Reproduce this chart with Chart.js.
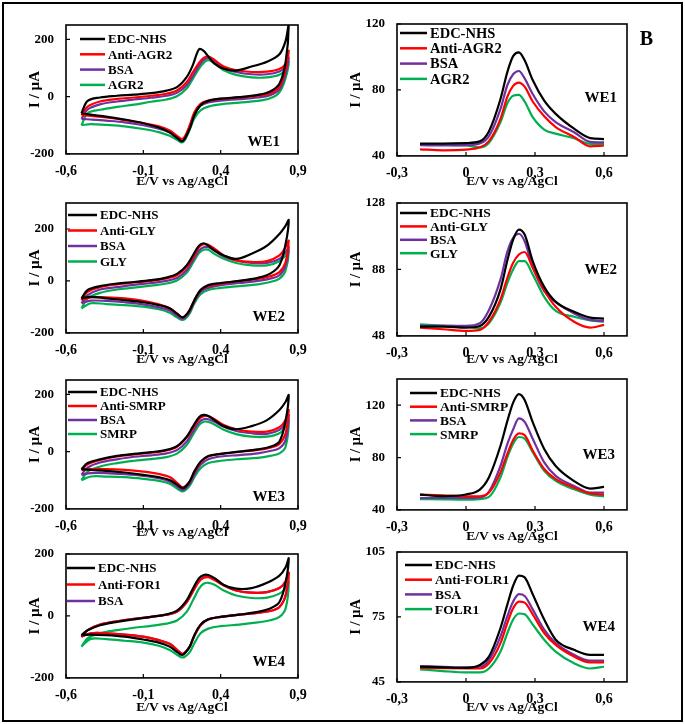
<!DOCTYPE html>
<html>
<head>
<meta charset="utf-8">
<script src="https://cdn.jsdelivr.net/npm/chart.js@4.4.1/dist/chart.umd.min.js"></script>
<style>
  body { margin: 0; background: #fff; }
  #page { position: relative; width: 685px; height: 724px; overflow: hidden; }
  #page canvas { position: absolute; }
  #frame { position: absolute; left: 2px; top: 2px; width: 677px; height: 716px; border: 2px solid #000; pointer-events: none; z-index: 5; }
</style>
</head>
<body>
<div id="page"><div id="frame"></div></div>
<script>
// Potential grids (E/V vs Ag/AgCl)
const cvForwardE = [-0.5, -0.46, -0.38, -0.27, -0.16, -0.05, 0.05, 0.12, 0.18, 0.22, 0.26, 0.29, 0.32, 0.36, 0.42, 0.5, 0.6, 0.7, 0.78, 0.82, 0.84];
const cvReverseE = [0.82, 0.78, 0.72, 0.64, 0.52, 0.4, 0.32, 0.27, 0.23, 0.2, 0.17, 0.15, 0.12, 0.07, 0, -0.1, -0.22, -0.34, -0.44, -0.5];
const dpvE = [-0.2, -0.1, 0, 0.06, 0.1, 0.15, 0.18, 0.205, 0.23, 0.255, 0.29, 0.34, 0.39, 0.47, 0.54, 0.6];

// Tick labels
const cvTicksX = [-0.6, -0.1, 0.4, 0.9];
const dpvTicksX = [-0.3, 0, 0.3, 0.6];
const cvTicksY = [-200, 0, 200];
const dpvTicksYWE1 = [40, 80, 120];
const dpvTicksYWE2 = [48, 88, 128];
const dpvTicksYWE3 = [40, 80, 120];
const dpvTicksYWE4 = [45, 75, 105];

// Legend names (EDC-NHS, antibody, BSA, target)
const namesWE1 = ["EDC-NHS", "Anti-AGR2", "BSA", "AGR2"];
const namesWE2 = ["EDC-NHS", "Anti-GLY", "BSA", "GLY"];
const namesWE3 = ["EDC-NHS", "Anti-SMRP", "BSA", "SMRP"];
const cvNamesWE4 = ["EDC-NHS", "Anti-FOR1", "BSA", null];
const dpvNamesWE4 = ["EDC-NHS", "Anti-FOLR1", "BSA", "FOLR1"];

//! CV currents (µA): forward scan on cvForwardE, reverse scan on cvReverseE
const cvFwdWE1 = [
  [-58, -15, -3, 3, 7, 12, 21, 34, 68, 110, 165, 160, 140, 115, 97, 91, 105, 122, 148, 195, 255],
  [-65, -35, -17, -8, -3, 3, 10, 22, 50, 85, 118, 135, 140, 128, 105, 92, 86, 87, 96, 115, 160],
  [-78, -45, -27, -17, -10, -4, 3, 14, 40, 72, 108, 127, 134, 124, 100, 86, 78, 78, 88, 105, 137],
  [-100, -58, -46, -36, -28, -18, -10, 2, 28, 62, 98, 118, 127, 116, 92, 76, 67, 67, 76, 95, 123],
];
const cvRevWE1 = [
  [120, 45, 18, 6, -2, -7, -15, -30, -65, -112, -145, -156, -145, -125, -108, -93, -80, -70, -63, -58],
  [95, 35, 12, 3, -3, -8, -14, -25, -55, -100, -138, -148, -138, -118, -104, -92, -82, -73, -67, -65],
  [80, 25, 5, -3, -9, -14, -20, -32, -62, -105, -145, -155, -145, -125, -112, -100, -90, -84, -80, -78],
  [65, 15, -6, -15, -21, -27, -35, -48, -75, -115, -150, -160, -152, -137, -124, -113, -104, -99, -96, -100],
];
const cvFwdWE2 = [
  [-67, -35, -20, -10, -4, 3, 13, 28, 60, 98, 136, 145, 136, 117, 98, 85, 105, 136, 181, 213, 234],
  [-74, -42, -24, -13, -6, 0, 10, 23, 54, 88, 130, 141, 139, 124, 98, 79, 73, 76, 98, 130, 155],
  [-86, -55, -33, -24, -15, -8, 0, 12, 41, 79, 117, 130, 130, 117, 94, 79, 69, 69, 85, 111, 130],
  [-106, -67, -46, -33, -26, -18, -10, 3, 31, 69, 107, 120, 120, 104, 85, 69, 60, 60, 76, 98, 117],
];
const cvRevWE2 = [
  [143, 60, 28, 12, 0, -8, -16, -35, -74, -112, -135, -140, -127, -105, -93, -82, -74, -67, -61, -67],
  [73, 34, 18, 8, 0, -10, -20, -35, -74, -112, -135, -140, -127, -105, -90, -77, -67, -63, -63, -74],
  [60, 22, 9, 0, -8, -16, -27, -42, -80, -118, -140, -145, -135, -114, -102, -90, -82, -77, -76, -86],
  [41, 9, -4, -13, -20, -27, -35, -51, -86, -125, -146, -150, -141, -122, -109, -99, -93, -89, -86, -106],
];
const cvFwdWE3 = [
  [-61, -40, -27, -15, -8, -2, 6, 20, 52, 87, 120, 128, 124, 110, 89, 78, 89, 110, 145, 174, 197],
  [-64, -44, -29, -17, -10, -4, 4, 18, 49, 81, 113, 124, 124, 113, 93, 78, 70, 70, 85, 110, 145],
  [-81, -56, -38, -27, -18, -13, -6, 6, 35, 70, 102, 113, 113, 104, 87, 72, 64, 62, 76, 99, 128],
  [-100, -70, -52, -40, -32, -26, -19, -6, 23, 58, 93, 104, 104, 95, 76, 61, 52, 52, 64, 87, 110],
];
const cvRevWE3 = [
  [110, 35, 17, 8, 0, -8, -15, -35, -69, -104, -124, -127, -116, -99, -89, -81, -73, -67, -64, -61],
  [64, 27, 14, 6, -1, -8, -17, -37, -71, -104, -121, -124, -110, -89, -78, -70, -64, -61, -61, -64],
  [41, 12, 2, -6, -12, -17, -27, -46, -81, -112, -130, -133, -122, -104, -93, -85, -79, -75, -75, -81],
  [17, -6, -15, -22, -26, -32, -40, -58, -89, -119, -135, -139, -130, -112, -102, -95, -89, -87, -87, -100],
];
const cvFwdWE4 = [
  [-62, -46, -30, -19, -11, -3, 5, 18, 50, 88, 122, 132, 132, 122, 100, 88, 90, 107, 130, 157, 186],
  [-67, -46, -28, -17, -9, -3, 4, 15, 45, 79, 111, 123, 125, 116, 98, 82, 75, 77, 90, 111, 139],
  [-67, -46, -28, -17, -9, -3, 4, 14, 44, 78, 113, 125, 128, 121, 100, 82, 75, 77, 90, 111, 139],
  [-99, -72, -56, -46, -38, -32, -25, -14, 13, 50, 88, 104, 107, 101, 82, 66, 58, 59, 72, 90, 111],
];
const cvRevWE4 = [
  [109, 45, 24, 13, 4, -3, -11, -28, -62, -99, -120, -126, -117, -99, -86, -76, -67, -62, -60, -62],
  [66, 29, 16, 10, 4, -3, -11, -30, -64, -99, -117, -122, -110, -90, -78, -67, -60, -56, -56, -67],
  [66, 29, 16, 10, 4, -3, -11, -30, -64, -99, -117, -122, -110, -90, -78, -67, -60, -56, -56, -67],
  [24, -3, -14, -21, -28, -33, -41, -56, -88, -117, -131, -134, -126, -110, -96, -86, -80, -75, -74, -99],
];

//! DPV currents (µA) on dpvE
const dpvWE1 = [
  [47.5, 47.5, 47.8, 48.8, 55, 74.5, 91, 100.5, 102.8, 98, 86, 73.5, 65.5, 56.5, 50.8, 50.2],
  [44, 43.4, 43.8, 45.2, 49, 62.5, 76, 82.5, 84.5, 82, 73, 64, 57.5, 51.5, 45.8, 46.3],
  [46.5, 46.3, 46.5, 47.5, 52, 68.5, 83, 89.5, 91.5, 87, 77.5, 67, 60.5, 54.3, 48.5, 48.2],
  [47, 46.8, 46.3, 45.2, 48, 60.5, 72, 76.5, 77, 73, 63.5, 56, 53.5, 50.7, 47.3, 47.3],
];
const dpvWE2 = [
  [53.6, 53.6, 53, 54, 59.6, 76, 93.5, 106, 112, 109, 93, 77.5, 68.5, 62.5, 59, 58.4],
  [52.9, 52, 51, 51.6, 56.6, 70, 83, 92, 97, 98.5, 89, 75.5, 65.5, 56.5, 53, 54.6],
  [54, 54, 54, 55.6, 63.6, 82, 98.7, 107, 109.5, 105, 89.5, 75, 68.5, 61.5, 57.6, 57],
  [55, 54.2, 53.6, 52.6, 55.6, 68, 80, 88, 93, 93, 85, 71.5, 63, 59.5, 57.3, 56.6],
];
const dpvWE3 = [
  [51.7, 50.5, 51.8, 55.5, 65, 89, 108, 122, 128.5, 124, 107, 86.5, 73.5, 62, 56.3, 57.6],
  [51.7, 51.2, 50.4, 50.4, 53.2, 68.7, 82.9, 93.3, 98.4, 97.1, 85.4, 71.2, 63.5, 57, 52.6, 51.7],
  [49.1, 49.1, 49.1, 49.5, 54, 73.6, 90.5, 101.5, 109.9, 107.3, 94.4, 76.3, 66, 58.3, 53.2, 53.2],
  [48.3, 48, 47.8, 48.3, 49.9, 64.8, 80.3, 90.6, 95.7, 94.4, 84.1, 69.9, 62.2, 55.7, 51.7, 50.4],
];
const dpvWE4 = [
  [52, 51.7, 51.5, 52.8, 56.7, 69.9, 80.8, 89.4, 94.1, 93.3, 85.5, 73.8, 64.5, 59.8, 57.5, 57.5],
  [51.5, 51.3, 51.2, 51.2, 53.6, 62.9, 72.3, 79, 82.1, 81.6, 76.2, 67.6, 62.1, 56.7, 54, 54],
  [52.3, 52, 51.7, 52, 55.1, 66, 75.4, 82.1, 85.5, 84.7, 78.5, 69.2, 62.9, 57.5, 54.8, 54.8],
  [50.8, 50, 49.4, 49.4, 51.2, 59, 67.6, 73.8, 76.6, 76.2, 71.5, 64.5, 59, 53.6, 51.2, 52],
];

// Warna seri: EDC-NHS, antibody, BSA, target
const seriesColors = ["#000000", "#ff0000", "#7030a0", "#00b050"];

const serif = "'Liberation Serif', 'Times New Roman', serif";
Chart.defaults.font.family = serif;
Chart.defaults.font.weight = "bold";
Chart.defaults.color = "#000";

//! Plugins: plot frame + inside ticks, inside legend, panel tags
const plotFrame = {
  id: "plotFrame",
  afterDatasetsDraw(chart) {
    const { ctx, chartArea: a, scales } = chart;
    ctx.save();
    ctx.strokeStyle = "#000";
    ctx.lineWidth = 1.6;
    ctx.strokeRect(a.left, a.top, a.right - a.left, a.bottom - a.top);
    ctx.beginPath();
    scales.x.ticks.forEach((t) => {
      const px = scales.x.getPixelForValue(t.value);
      ctx.moveTo(px, a.bottom);
      ctx.lineTo(px, a.bottom - 4);
    });
    scales.y.ticks.forEach((t) => {
      const py = scales.y.getPixelForValue(t.value);
      ctx.moveTo(a.left, py);
      ctx.lineTo(a.left + 4, py);
    });
    ctx.lineWidth = 1.2;
    ctx.stroke();
    ctx.restore();
  },
};

const insideLegend = {
  id: "insideLegend",
  afterDatasetsDraw(chart, args, opts) {
    const { ctx, chartArea: a } = chart;
    ctx.save();
    ctx.font = `bold ${opts.size}px ${serif}`;
    ctx.textBaseline = "middle";
    ctx.textAlign = "left";
    let row = 0;
    chart.data.datasets.forEach((ds) => {
      if (!ds.label) return;
      const y = a.top + opts.y + row * opts.gap;
      ctx.strokeStyle = ds.borderColor;
      ctx.lineWidth = 2.5;
      ctx.beginPath();
      ctx.moveTo(a.left + opts.x, y);
      ctx.lineTo(a.left + opts.x + opts.len, y);
      ctx.stroke();
      ctx.fillStyle = "#000";
      ctx.fillText(ds.label, a.left + opts.x + opts.len + 3, y + 1);
      row++;
    });
    ctx.restore();
  },
};

const panelTag = {
  id: "panelTag",
  afterDatasetsDraw(chart, args, opts) {
    const { ctx, chartArea: a } = chart;
    ctx.save();
    ctx.fillStyle = "#000";
    ctx.textAlign = "right";
    ctx.textBaseline = "middle";
    opts.items.forEach((t) => {
      ctx.font = `bold ${t.size}px ${serif}`;
      ctx.fillText(t.text, a.right - t.right, a.top + t.y);
    });
    ctx.restore();
  },
};

function commaLabel(v) {
  return String(v).replace(".", ",");
}

function cvPoints(fwd, rev) {
  const up = cvForwardE.map((e, i) => ({ x: e, y: fwd[i] }));
  const down = cvReverseE.map((e, i) => ({ x: e, y: rev[i] }));
  return up.concat(down);
}

function dpvPoints(vals) {
  return dpvE.map((e, i) => ({ x: e, y: vals[i] }));
}

//! Panel layout (plot rect: left, top, right, bottom in page px)
const panels = [
  { kind: "cv", names: namesWE1, fwd: cvFwdWE1, rev: cvRevWE1, yMin: -200, yMax: 250, yTicks: cvTicksY,
    rect: [66, 25, 298, 154], gap: 28, legend: { x: 14, y: 14, gap: 15.3, len: 25, size: 13 },
    tags: [{ text: "WE1", right: 18, y: 117, size: 15 }] },
  { kind: "dpv", names: namesWE1, vals: dpvWE1, yMin: 40, yMax: 120, yTicks: dpvTicksYWE1,
    rect: [397, 24, 627, 156], gap: 26, legend: { x: 3, y: 9, gap: 15.3, len: 27, size: 14.5 },
    tags: [{ text: "WE1", right: 10, y: 74, size: 15 }, { text: "B", right: -26, y: 16, size: 20 }] },
  { kind: "cv", names: namesWE2, fwd: cvFwdWE2, rev: cvRevWE2, yMin: -200, yMax: 300, yTicks: cvTicksY,
    rect: [66, 203, 298, 333], gap: 27, legend: { x: 2, y: 12, gap: 15.5, len: 29, size: 13 },
    tags: [{ text: "WE2", right: 13, y: 114, size: 15 }] },
  { kind: "dpv", names: namesWE2, vals: dpvWE2, yMin: 48, yMax: 128, yTicks: dpvTicksYWE2,
    rect: [397, 203, 627, 336], gap: 24, legend: { x: 3, y: 10, gap: 13.4, len: 27, size: 13.5 },
    tags: [{ text: "WE2", right: 10, y: 67, size: 15 }] },
  { kind: "cv", names: namesWE3, fwd: cvFwdWE3, rev: cvRevWE3, yMin: -200, yMax: 250, yTicks: cvTicksY,
    rect: [66, 380, 298, 509], gap: 24, legend: { x: 2, y: 12, gap: 14, len: 29, size: 13 },
    tags: [{ text: "WE3", right: 13, y: 117, size: 15 }] },
  { kind: "dpv", names: namesWE3, vals: dpvWE3, yMin: 40, yMax: 140, yTicks: dpvTicksYWE3,
    rect: [397, 379, 627, 510], gap: 27, legend: { x: 13, y: 14, gap: 13.7, len: 27, size: 13.5 },
    tags: [{ text: "WE3", right: 12, y: 76, size: 15 }] },
  { kind: "cv", names: cvNamesWE4, fwd: cvFwdWE4, rev: cvRevWE4, yMin: -200, yMax: 200, yTicks: cvTicksY,
    rect: [66, 554, 298, 678], gap: 30, legend: { x: 1, y: 14, gap: 16.5, len: 28, size: 13 },
    tags: [{ text: "WE4", right: 13, y: 108, size: 15 }] },
  { kind: "dpv", names: dpvNamesWE4, vals: dpvWE4, yMin: 45, yMax: 105, yTicks: dpvTicksYWE4,
    rect: [397, 552, 627, 682], gap: 26, legend: { x: 8, y: 13, gap: 14.7, len: 27, size: 13.5 },
    tags: [{ text: "WE4", right: 12, y: 75, size: 15 }] },
];

function initPanel(p) {
  const isCv = p.kind === "cv";
  const [x1, y1, x2, y2] = p.rect;
  const axisW = isCv ? 62 : 60;
  const axisH = p.gap + 8.1;
  const padTop = 22; // harus >= setengah label + ticks.padding sumbu y
  const box = {
    x: x1 - axisW,
    y: y1 - padTop,
    w: x2 - x1 + axisW + 40,
    h: y2 - y1 + padTop + axisH + 2,
  };

  const canvas = document.createElement("canvas");
  canvas.width = box.w;
  canvas.height = box.h;
  canvas.style.left = box.x + "px";
  canvas.style.top = box.y + "px";
  document.getElementById("page").appendChild(canvas);

  const datasets = p.names.map((name, i) => ({
    label: name,
    data: isCv ? cvPoints(p.fwd[i], p.rev[i]) : dpvPoints(p.vals[i]),
    borderColor: seriesColors[i],
    borderWidth: 2.2,
    pointRadius: 0,
    fill: false,
    tension: isCv ? 0.35 : 0.4,
    cubicInterpolationMode: isCv ? "default" : "monotone",
  }));

  const xTicks = isCv ? cvTicksX : dpvTicksX;

  new Chart(canvas.getContext("2d"), {
    type: "line",
    data: { datasets },
    options: {
      responsive: false,
      animation: false,
      events: [],
      layout: { padding: { left: 0, top: padTop, right: 40, bottom: 2 } },
      plugins: {
        legend: { display: false },
        tooltip: { enabled: false },
        insideLegend: p.legend,
        panelTag: { items: p.tags },
      },
      scales: {
        x: {
          type: "linear",
          min: isCv ? -0.6 : -0.3,
          max: isCv ? 0.9 : 0.7,
          afterBuildTicks: (s) => {
            s.ticks = xTicks.map((v) => ({ value: v }));
          },
          afterFit: (s) => {
            s.height = axisH;
          },
          grid: { display: false, drawTicks: false },
          border: { display: false },
          ticks: {
            font: { size: 14, weight: "bold" },
            padding: 9,
            maxRotation: 0,
            autoSkip: false,
            callback: commaLabel,
          },
          title: {
            display: true,
            text: "E/V vs Ag/AgCl",
            font: { size: 13.5, weight: "bold" },
            padding: 0,
          },
        },
        y: {
          type: "linear",
          min: p.yMin,
          max: p.yMax,
          afterBuildTicks: (s) => {
            s.ticks = p.yTicks.map((v) => ({ value: v }));
          },
          afterFit: (s) => {
            s.width = axisW;
          },
          grid: { display: false, drawTicks: false },
          border: { display: false },
          ticks: {
            font: { size: 13, weight: "bold" },
            padding: 12,
            autoSkip: false,
            callback: commaLabel,
          },
          title: {
            display: true,
            text: "I / µA",
            font: { size: isCv ? 15 : 14.5, weight: "bold" },
            padding: { top: isCv ? 22.5 : 10.3, bottom: 0 },
          },
        },
      },
    },
    plugins: [plotFrame, insideLegend, panelTag],
  });
}

panels.forEach(initPanel);
</script>
</body>
</html>
